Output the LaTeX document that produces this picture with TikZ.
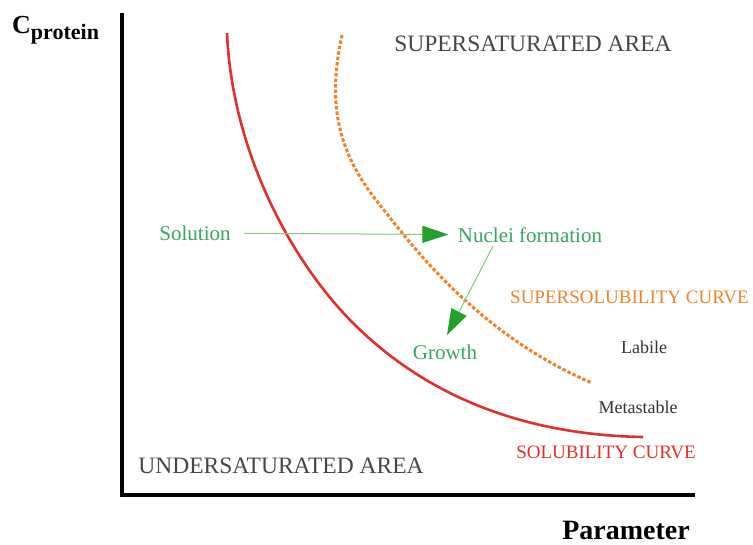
\documentclass[tikz,border=0pt]{standalone}
\usepackage{fontspec}
\setmainfont{Liberation Serif}
\usetikzlibrary{arrows.meta}
\definecolor{solred}{RGB}{228,45,45}
\definecolor{supor}{RGB}{240,130,40}
\definecolor{txtgreen}{RGB}{55,165,95}
\definecolor{linegreen}{RGB}{125,205,125}
\definecolor{headgreen}{RGB}{35,160,45}
\definecolor{areagray}{RGB}{70,70,70}
\tikzset{
  area/.style={text=areagray,font=\fontsize{23.5}{25}\selectfont},
  step label/.style={text=txtgreen,font=\fontsize{21}{23}\selectfont},
  zone/.style={text=black!80,font=\fontsize{18}{20}\selectfont},
  curvelabel/.style={font=\fontsize{19}{21}\selectfont},
  sollabel/.style={curvelabel,text=solred},
  axislabel/.style={font=\bfseries\fontsize{28}{30}\selectfont},
  axis/.style={line width=4.5pt,black},
  flow/.style={linegreen,line width=1pt,
    -{Triangle[length=26pt,width=17pt,fill=headgreen,color=headgreen]}}
}
\begin{document}
\begin{tikzpicture}[x=1pt,y=-1pt]
  \useasboundingbox (0,0) rectangle (753,544);
  \def \Labels{
    super/533/44/area/SUPERSATURATED AREA,
    under/281/466/area/UNDERSATURATED AREA,
    solution/195/233/step label/Solution,
    nuclei/530/235/step label/Nuclei formation,
    growth/445/352/step label/Growth,
    labile/644/347/zone/Labile,
    meta/638/407/zone/Metastable,
    solcurve/606/452/sollabel/SOLUBILITY CURVE}
  \foreach \id / \x / \y / \st / \lb in \Labels{
    \node[\st] (\id) at (\x, \y) {\lb};
  }
  \node[curvelabel,text=supor,anchor=west,inner sep=0pt] (supcurve) at (510,297) {SUPERSOLUBILITY CURVE};
  % axes
  \coordinate (origin) at (122,495);
  \draw[axis] (122,13) -- (origin) -- (695,495);
  \node[axislabel,anchor=base west,inner sep=0pt] (cprot) at (12,33)
    {\fontsize{26}{28}\selectfont C\raisebox{-6pt}{\fontsize{22}{24}\selectfont protein}};
  \node[axislabel,anchor=base,inner sep=0pt] (param) at (626,539) {Parameter};
  % curves
  \draw[solred,line width=2.6pt] (227,33) .. controls (232,150) and (290,260) .. (353,323)
    .. controls (430,400) and (530,435) .. (643,437);
  \draw[supor,line width=3pt,dash pattern=on 3.5pt off 2pt] (342,35)
    .. controls (328,100) and (335,150) .. (380,205)
    .. controls (415,250) and (480,335) .. (592,383);
  % process arrows
  \draw[flow,shorten <=10pt,shorten >=6pt] (solution) -- (nuclei);
  \draw[flow] ([xshift=-37pt]nuclei.south) -- ([xshift=2pt,yshift=6pt]growth.north);
\end{tikzpicture}
\end{document}
